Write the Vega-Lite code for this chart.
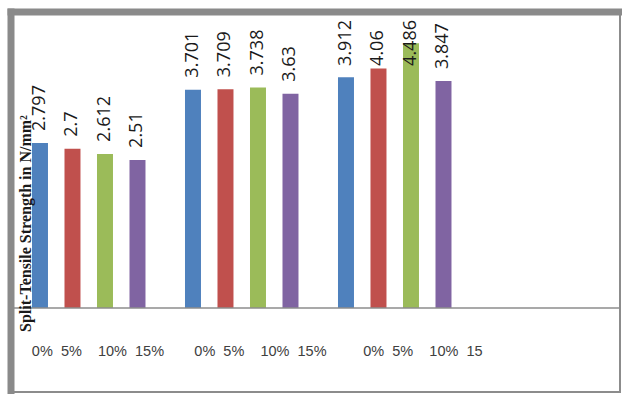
{
  "$schema": "https://vega.github.io/schema/vega-lite/v6.json",
  "width": 609,
  "height": 380,
  "autosize": {"type": "none"},
  "padding": {"left": 11, "top": 12, "right": 2, "bottom": 2},
  "background": "white",
  "config": {
    "view": {"stroke": "#8c8c8c", "strokeWidth": 2}
  },
  "datasets": {
    "bars": [
      {"set": "1", "pct": "0%", "value": 2.797},
      {"set": "1", "pct": "5%", "value": 2.7},
      {"set": "1", "pct": "10%", "value": 2.612},
      {"set": "1", "pct": "15%", "value": 2.51},
      {"set": "2", "pct": "0%", "value": 3.701},
      {"set": "2", "pct": "5%", "value": 3.709},
      {"set": "2", "pct": "10%", "value": 3.738},
      {"set": "2", "pct": "15%", "value": 3.63},
      {"set": "3", "pct": "0%", "value": 3.912},
      {"set": "3", "pct": "5%", "value": 4.06},
      {"set": "3", "pct": "10%", "value": 4.486},
      {"set": "3", "pct": "15%", "value": 3.847}
    ],
    "groups": [
      {"set": "1", "label": "0%\u00a0\u00a05%\u00a0\u00a0\u00a0\u00a010%\u00a0\u00a015%"},
      {"set": "2", "label": "0%\u00a0\u00a05%\u00a0\u00a0\u00a0\u00a010%\u00a0\u00a015%"},
      {"set": "3", "label": "0%\u00a0\u00a05%\u00a0\u00a0\u00a0\u00a010%\u00a0\u00a015"}
    ]
  },
  "resolve": {"scale": {"x": "independent"}},
  "layer": [
    {
      "layer": [
        {
          "data": {"name": "bars"},
          "mark": {"type": "bar"},
          "encoding": {
            "x": {
              "field": "set", "type": "nominal",
              "scale": {"domain": ["1", "2", "3", "4"], "paddingInner": 0.0196, "paddingOuter": 0},
              "axis": null
            },
            "xOffset": {
              "field": "pct", "type": "nominal",
              "scale": {"domain": ["0%", "5%", "10%", "15%"], "paddingInner": 0.508, "paddingOuter": 0.5616, "align": 0.575}
            },
            "y": {
              "field": "value", "type": "quantitative",
              "scale": {"domain": [-1.424, 5.017], "nice": false, "zero": false},
              "axis": {
                "title": "Split-Tensile Strength in N/mm²",
                "labels": false, "ticks": false, "domain": false, "grid": false,
                "titleFont": "Liberation Serif", "titleFontWeight": "bold", "titleFontSize": 16,
                "titleColor": "#1a1a1a",
                "titleX": 14, "titleY": 211, "titleAngle": -90,
                "titleAlign": "center", "titleBaseline": "middle",
                "zindex": 1
              }
            },
            "y2": {"datum": 0},
            "color": {
              "field": "pct", "type": "nominal",
              "scale": {"domain": ["0%", "5%", "10%", "15%"], "range": ["#4F81BD", "#C0504D", "#9BBB59", "#8064A2"]},
              "legend": null
            }
          }
        },
        {
          "data": {"name": "bars"},
          "transform": [{"calculate": "min(datum.value, 3.9)", "as": "labelAt"}],
          "mark": {"type": "text", "angle": -90, "align": "left", "baseline": "middle", "dx": 12, "font": "Open Sans", "fontSize": 18, "color": "#1a1a1a"},
          "encoding": {
            "x": {"field": "set", "type": "nominal"},
            "xOffset": {"field": "pct", "type": "nominal"},
            "y": {"field": "labelAt", "type": "quantitative"},
            "text": {"field": "value", "type": "quantitative", "format": ""}
          }
        },
        {
          "data": {"values": [{}]},
          "mark": {"type": "rule", "color": "#8c8c8c", "strokeWidth": 1.5},
          "encoding": {"y": {"datum": 0}}
        },
        {
          "data": {"values": [{}]},
          "mark": {"type": "rule", "color": "#8a8a8a", "strokeWidth": 7, "strokeCap": "square"},
          "encoding": {"y": {"datum": 5.017}}
        },
        {
          "data": {"values": [{}]},
          "mark": {"type": "rule", "color": "#8a8a8a", "strokeWidth": 7, "strokeCap": "square"},
          "encoding": {"x": {"datum": "1", "bandPosition": 0}}
        }
      ]
    },
    {
      "data": {"name": "groups"},
      "mark": {"type": "text", "align": "center", "baseline": "middle", "font": "Liberation Sans", "fontSize": 14.5, "color": "#404040"},
      "encoding": {
        "x": {
          "field": "set", "type": "nominal",
          "scale": {"type": "band", "domain": ["1", "2", "3"], "paddingInner": 0, "paddingOuter": 0.374, "align": 0.047},
          "axis": null
        },
        "y": {"datum": -0.746},
        "text": {"field": "label", "type": "nominal"}
      }
    }
  ]
}
